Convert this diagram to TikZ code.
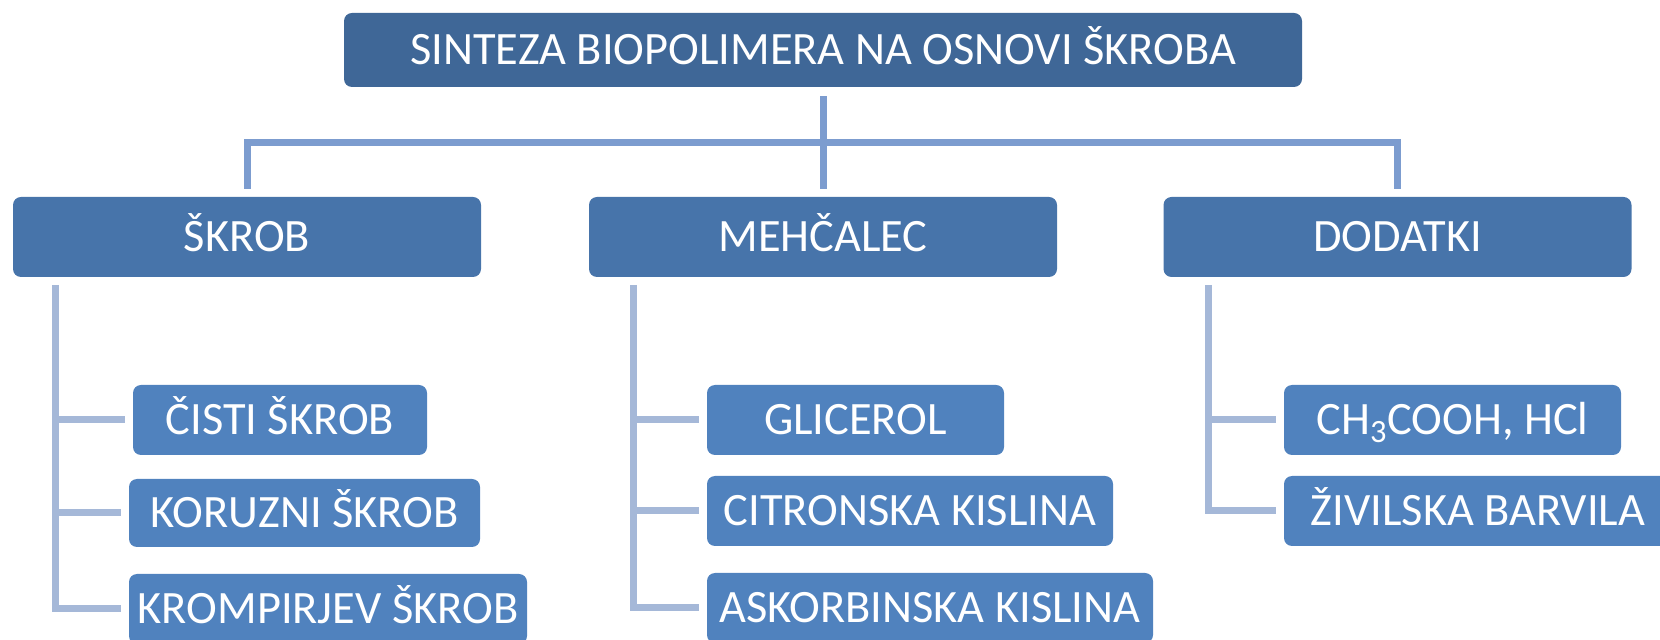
\documentclass[tikz,border=0pt]{standalone}
\usepackage{fontspec}
\setmainfont{Carlito}
\usepackage{tikz}
\usetikzlibrary{calc}
\definecolor{qqtopb}{HTML}{3F6797}
\definecolor{qqmidb}{HTML}{4774AA}
\definecolor{qqlowb}{HTML}{5082BE}
\definecolor{qqlinea}{HTML}{7C9CCF}
\definecolor{qqlineb}{HTML}{A5B8D8}
\tikzset{
  box/.style={rounded corners=4pt,inner sep=0pt,text=white,font=\fontsize{23.2}{26}\selectfont,
    text height=14.9pt,text depth=0pt,align=center},
  topbox/.style={box,fill=qqtopb,minimum width=479pt,minimum height=37pt},
  midbox/.style={box,fill=qqmidb,minimum width=234pt,minimum height=40pt},
  lowbox/.style={box,fill=qqlowb,minimum height=35pt},
  toplink/.style={line width=3.5pt,color=qqlinea},
  sublink/.style={line width=3.5pt,color=qqlineb,shorten >=4pt}
}

\begin{document}
\begin{tikzpicture}[x=0.5pt,y=-0.5pt,line join=miter]
                    \clip (0,0) rectangle (1660,640);

                    % glavni naslov
                    \node[topbox] (sinteza) at (823,50) {SINTEZA BIOPOLIMERA NA OSNOVI ŠKROBA};

                    \node[midbox] (skrob) at (247,237) {ŠKROB};
                    \node[midbox] (mehcalec) at (823,237) {MEHČALEC};
                    \node[midbox] (dodatki) at (1397.5,237) {DODATKI};

                    \node[lowbox,minimum width=147pt] (cisti) at (280,420) {ČISTI ŠKROB};
                    \node[lowbox,minimum width=175.5pt,minimum height=34pt] (koruzni) at (304.5,513) {KORUZNI ŠKROB};
                    \node[lowbox,minimum width=199pt] (krompir) at (328,609) {KROMPIRJEV ŠKROB};

                    \node[lowbox,minimum width=148.5pt] (glicerol) at (855.5,420) {GLICEROL};
                    \node[lowbox,minimum width=203pt] (citron) at (910,511) {CITRONSKA KISLINA};
                    \node[lowbox,minimum width=223pt] (askorb) at (930,608) {ASKORBINSKA KISLINA};

                    \node[lowbox,minimum width=168.5pt] (kisline) at (1452.5,420) {CH\textsubscript{3}COOH, HCl};
                    \node[lowbox,minimum width=194pt] (barvila) at (1478,511) {ŽIVILSKA BARVILA};

                    % povezave
                    \coordinate (split) at (823,143);
                    \draw[toplink,shorten <=4.5pt] (sinteza) -- (split);
                    \draw[toplink,shorten >=4pt] (split) -| (skrob);
                    \draw[toplink,shorten >=4pt] (split) -- (mehcalec);
                    \draw[toplink,shorten >=4pt] (split) -| (dodatki);

                    \coordinate (skrobtrunk) at (55,285);
                    \draw[sublink] (skrobtrunk) |- (krompir);
                    \draw[sublink] (skrobtrunk |- cisti) -- (cisti);
                    \draw[sublink] (skrobtrunk |- koruzni) -- (koruzni);

                    \coordinate (mehtrunk) at (633,285);
                    \draw[sublink] (mehtrunk) |- (askorb);
                    \draw[sublink] (mehtrunk |- glicerol) -- (glicerol);
                    \draw[sublink] (mehtrunk |- citron) -- (citron);

                    \coordinate (dodtrunk) at (1208,285);
                    \draw[sublink] (dodtrunk) |- (barvila);
                    \draw[sublink] (dodtrunk |- kisline) -- (kisline);
                    \end{tikzpicture}
\end{document}
